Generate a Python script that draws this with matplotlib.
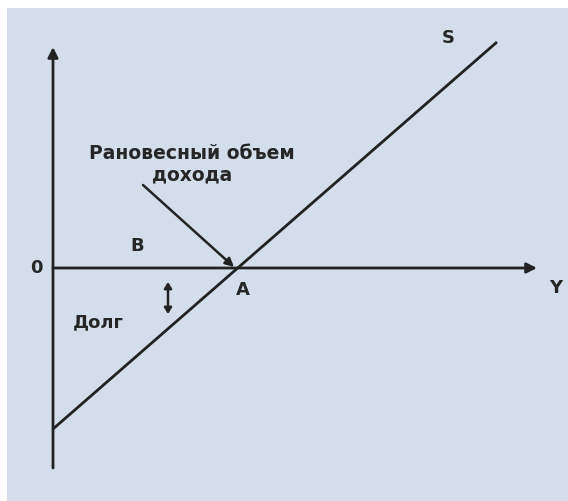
import matplotlib
matplotlib.use("Agg")
import matplotlib.pyplot as plt
from matplotlib.patches import Rectangle

# Schematic data (pixel-space diagram units, origin at axes crossing)
s_line_x = [0, 444]
s_line_y = [-161, 226]
y_axis_range = [-200, 221]
x_axis_range = [0, 484]
labels = {"0": (-17, 0), "B": (84, 22), "A": (190, -22), "Y": (503, -20),
          "S": (395, 230), "Долг": (45, -54)}
annot_text = "Рановесный объем\nдохода"

W, H = 568, 501
ox, oy = 53, 268
fig = plt.figure(figsize=(W / 100, H / 100), dpi=100, facecolor="white")
ax = fig.add_axes([0, 0, 1, 1])
ax.set_xlim(-ox, W - ox)
ax.set_ylim(oy - H, oy)
ax.axis("off")

bg = "#d3deea"
ax.add_patch(Rectangle((7 - ox, oy - H), W, H - 8, facecolor=bg, edgecolor="none", zorder=0))

lc = "#222222"
tc = "#262626"
# Axes with arrows
ax.annotate("", xy=(0, y_axis_range[1]), xytext=(0, y_axis_range[0]),
            arrowprops=dict(arrowstyle="-|>,head_length=0.6,head_width=0.3", color=lc, lw=2.0,
                            shrinkA=0, shrinkB=0))
ax.annotate("", xy=(x_axis_range[1], 0), xytext=(x_axis_range[0], 0),
            arrowprops=dict(arrowstyle="-|>,head_length=0.6,head_width=0.3", color=lc, lw=2.0,
                            shrinkA=0, shrinkB=0))
# S line
ax.plot(s_line_x, s_line_y, color=lc, lw=2.0, solid_capstyle="butt")

# Annotation arrow
ax.annotate("", xy=(181, 1), xytext=(90, 83),
            arrowprops=dict(arrowstyle="-|>,head_length=0.5,head_width=0.25", color=lc, lw=1.8,
                            shrinkA=0, shrinkB=0))
ax.text(139, 104, annot_text, ha="center", va="center", fontsize=13.5, color=tc,
        linespacing=1.2, fontfamily="DejaVu Sans", fontweight="bold")

# Double arrow
ax.annotate("", xy=(115, -14), xytext=(115, -46),
            arrowprops=dict(arrowstyle="<|-|>,head_length=0.35,head_width=0.22", color=lc, lw=1.8,
                            shrinkA=0, shrinkB=0))

for t, (x, y) in labels.items():
    ax.text(x, y, t, ha="center", va="center", fontsize=13, color=tc,
            fontfamily="DejaVu Sans", fontweight="bold")

fig.savefig("out.png", dpi=100, facecolor="white")
